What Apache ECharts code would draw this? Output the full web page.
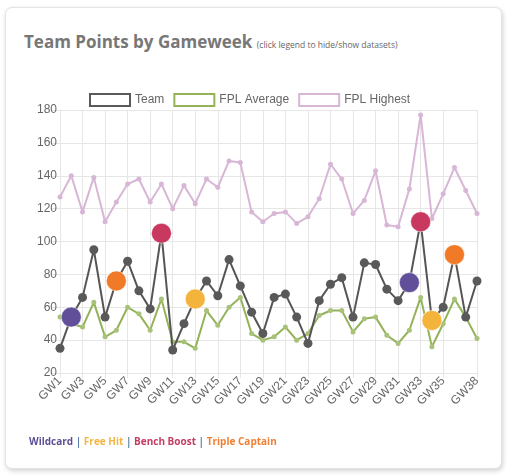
<!DOCTYPE html>
<html>
<head>
<meta charset="utf-8">
<script src="https://cdn.jsdelivr.net/npm/echarts@6/dist/echarts.min.js"></script>
<style>
  html, body { margin: 0; padding: 0; background: #fff; }
  #card {
    position: absolute; left: 5px; top: 7px; width: 495px; height: 460px;
    border: 1px solid #e3e3e3; border-radius: 7px;
    box-shadow: 1px 2px 5px rgba(0,0,0,0.18); background: #fff;
  }
  #title {
    position: absolute; left: 24px; top: 30px; margin: 0;
    font: bold 17px "Open Sans", sans-serif; color: #777; white-space: nowrap;
  }
  #title small { font-weight: normal; font-size: 8.5px; color: #666; }
  #chips {
    position: absolute; left: 29px; top: 434px;
    font: bold 10px "Open Sans", sans-serif; color: #5b7fa8; white-space: nowrap;
  }
  #chart { position: absolute; left: 0; top: 0; width: 509px; height: 476px; }
</style>
</head>
<body>
<div id="card"></div>
<div id="title">Team Points by Gameweek <small>(click legend to hide/show datasets)</small></div>
<div id="chart"></div>
<div id="chips">
  <span style="color:#5e4f94">Wildcard</span> |
  <span style="color:#f3b547">Free Hit</span> |
  <span style="color:#c53d63">Bench Boost</span> |
  <span style="color:#f07f33">Triple Captain</span>
</div>
<script>
const gameweeks = []
for (let i = 1; i <= 38; i++) gameweeks.push('GW' + i)

const teamPoints = [35, 54, 66, 95, 54, 76, 88, 70, 59, 105, 34, 50, 65, 76, 67, 89, 73, 57, 44,
  66, 68, 54, 38, 64, 74, 78, 54, 87, 86, 71, 64, 75, 112, 52, 60, 92, 54, 76]
const averagePoints = [54, 50, 48, 63, 42, 46, 60, 56, 46, 65, 39, 39, 35, 58, 49, 60, 66, 44, 40,
  42, 48, 40, 44, 55, 58, 58, 45, 53, 54, 43, 38, 46, 66, 36, 50, 65, 54, 41]
const highestPoints = [127, 140, 118, 139, 112, 124, 135, 138, 124, 135, 120, 134, 123, 138, 133, 149, 148, 118, 112,
  117, 118, 111, 115, 126, 147, 138, 117, 125, 143, 110, 109, 132, 177, 114, 129, 145, 131, 117]

// gameweek where each chip was played
const chipWeeks = [2, 6, 10, 13, 32, 33, 34, 36]
const chipNames = ['Wildcard', 'Triple Captain', 'Bench Boost', 'Free Hit',
  'Wildcard', 'Bench Boost', 'Free Hit', 'Triple Captain']

const chipColors = {
  'Wildcard': '#614f9a',
  'Free Hit': '#f4b33a',
  'Bench Boost': '#c9385f',
  'Triple Captain': '#f07a28',
}

const teamData = teamPoints.map((v, i) => {
  const k = chipWeeks.indexOf(i + 1)
  if (k < 0) return v
  return {
    value: v,
    symbolSize: 20,
    itemStyle: {color: chipColors[chipNames[k]], borderColor: 'rgba(255,255,255,0.5)', borderWidth: 1},
  }
})

// every other gameweek, then the last one (like the auto-skip of the original)
const last = gameweeks.length - 1
const showTick = (idx) => (idx % 2 === 0 && idx < last - 2) || idx === last
const gridColor = '#e6e6e6'

const chart = echarts.init(document.getElementById('chart'))
chart.setOption({
  animation: false,
  legend: {
    top: 88,
    left: 84,
    icon: 'rect',
    itemWidth: 40,
    itemHeight: 12,
    itemGap: 9,
    textStyle: {color: '#666', fontSize: 12, fontFamily: 'Arial'},
    data: [
      {name: 'Team', itemStyle: {color: '#fff', borderColor: '#5a5a5a', borderWidth: 2}},
      {name: 'FPL Average', itemStyle: {color: '#fff', borderColor: '#93b359', borderWidth: 2}},
      {name: 'FPL Highest', itemStyle: {color: '#fff', borderColor: '#d8b6d6', borderWidth: 2}},
    ],
  },
  grid: {left: 60, right: 32, top: 110, bottom: 103, containLabel: false},
  xAxis: {
    type: 'category',
    data: gameweeks,
    boundaryGap: false,
    axisLine: {lineStyle: {color: gridColor}},
    axisTick: {show: true, interval: showTick, length: 5, lineStyle: {color: gridColor}},
    splitLine: {show: true, interval: showTick, lineStyle: {color: gridColor}},
    axisLabel: {interval: showTick, rotate: 45, color: '#666', fontSize: 12, fontFamily: 'Arial', margin: 6},
  },
  yAxis: {
    type: 'value',
    min: 20,
    max: 180,
    interval: 20,
    axisLine: {show: true, lineStyle: {color: gridColor}},
    axisTick: {show: true, length: 8, lineStyle: {color: gridColor}},
    splitLine: {lineStyle: {color: gridColor}},
    axisLabel: {color: '#666', fontSize: 12, fontFamily: 'Arial', margin: 3},
  },
  series: [
    {
      name: 'FPL Highest',
      type: 'line',
      data: highestPoints,
      symbol: 'circle',
      symbolSize: 5,
      showAllSymbol: true,
      z: 2,
      lineStyle: {color: '#d8b6d6', width: 2},
      itemStyle: {color: '#d8b6d6'},
    },
    {
      name: 'FPL Average',
      type: 'line',
      data: averagePoints,
      symbol: 'circle',
      symbolSize: 5,
      showAllSymbol: true,
      z: 3,
      lineStyle: {color: '#93b359', width: 2},
      itemStyle: {color: '#a9c27a'},
    },
    {
      name: 'Team',
      type: 'line',
      data: teamData,
      symbol: 'circle',
      symbolSize: 9,
      showAllSymbol: true,
      z: 4,
      lineStyle: {color: '#555', width: 2},
      itemStyle: {color: '#595959'},
    },
  ],
})
</script>
</body>
</html>
